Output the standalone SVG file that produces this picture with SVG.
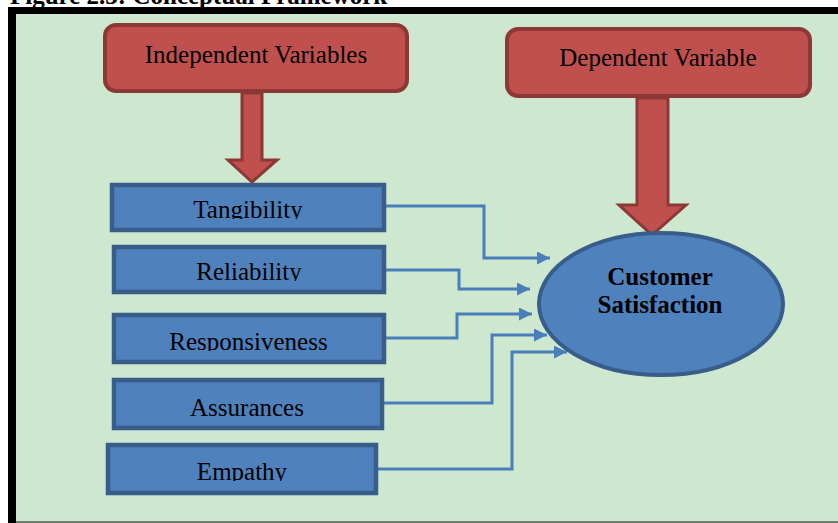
<svg xmlns="http://www.w3.org/2000/svg" width="838" height="523" viewBox="0 0 838 523">
<style>
  .red { fill: #c0504d; stroke: #8c3836; stroke-width: 4; }
  .redarrow { fill: #c0504d; stroke: #8c3836; stroke-width: 3; stroke-linejoin: miter; }
  .blue { fill: #4f81bd; stroke: #385d8a; stroke-width: 4.5; }
  .ell { fill: #4f81bd; stroke: #385d8a; stroke-width: 4; }
  .conn { fill: none; stroke: #4a7ebb; stroke-width: 3; marker-end: url(#ah); }
  .t { font-family: "Liberation Serif", "Times New Roman", serif; font-size: 25px; fill: #000; text-anchor: middle; }
  .b { font-weight: bold; }
</style>
<defs>
  <marker id="ah" markerUnits="userSpaceOnUse" markerWidth="14" markerHeight="14" refX="13" refY="6.5" orient="auto">
    <path d="M0,0 L13,6.5 L0,13 z" fill="#4a7ebb"/>
  </marker>
  <clipPath id="c1"><rect x="110" y="183" width="276" height="36"/></clipPath>
  <clipPath id="c2"><rect x="112" y="245" width="274" height="36"/></clipPath>
  <clipPath id="c3"><rect x="112" y="313" width="274" height="38"/></clipPath>
  <clipPath id="c5"><rect x="106" y="443" width="272" height="38"/></clipPath>
</defs>
<rect x="0" y="0" width="838" height="523" fill="#ffffff"/>
<text x="10" y="4" class="t b" style="text-anchor:start">Figure 2.3: Conceptual Framework</text>
<rect x="8" y="7" width="840" height="520" fill="#000000"/>
<rect x="16" y="14" width="830" height="507" fill="#cde8cf"/>
<line x1="16" y1="522" x2="838" y2="522" stroke="#6f7f70" stroke-width="2"/>

<g id="connectors">
  <polygon class="redarrow" points="242,93 262,93 262,160 277,160 252,182 228,160 242,160"/>
  <polygon class="redarrow" points="637,98 668,98 668,205 686,205 652,235 619,205 637,205"/>
  <path class="conn" d="M386,206 H484 V258 H550"/>
  <path class="conn" d="M386,270 H459 V289 H530"/>
  <path class="conn" d="M386,338 H457 V314 H532"/>
  <path class="conn" d="M384,403 H492 V335 H547"/>
  <path class="conn" d="M378,469 H512 V352 H567"/>
</g>

<g id="independent">
  <rect class="red" x="105" y="25" width="302" height="66" rx="11"/>
  <text class="t" x="256" y="63">Independent Variables</text>
</g>
<g id="dependent">
  <rect class="red" x="507" y="29" width="303" height="67" rx="11"/>
  <text class="t" x="658" y="66">Dependent Variable</text>
</g>
<g id="tangibility">
  <rect class="blue" x="112" y="185" width="272" height="45"/>
  <text class="t" x="248" y="218" clip-path="url(#c1)">Tangibility</text>
</g>
<g id="reliability">
  <rect class="blue" x="114" y="247" width="270" height="45"/>
  <text class="t" x="249" y="280" clip-path="url(#c2)">Reliability</text>
</g>
<g id="responsiveness">
  <rect class="blue" x="114" y="315" width="270" height="47"/>
  <text class="t" x="248.5" y="350" clip-path="url(#c3)">Responsiveness</text>
</g>
<g id="assurances">
  <rect class="blue" x="114" y="380" width="268" height="48"/>
  <text class="t" x="247" y="416">Assurances</text>
</g>
<g id="empathy">
  <rect class="blue" x="108" y="445" width="268" height="48"/>
  <text class="t" x="242" y="480" clip-path="url(#c5)">Empathy</text>
</g>
<g id="customer-satisfaction">
  <ellipse class="ell" cx="661" cy="304" rx="122" ry="71"/>
  <text class="t b" x="660" y="285">Customer</text>
  <text class="t b" x="660" y="313">Satisfaction</text>
</g>
</svg>
